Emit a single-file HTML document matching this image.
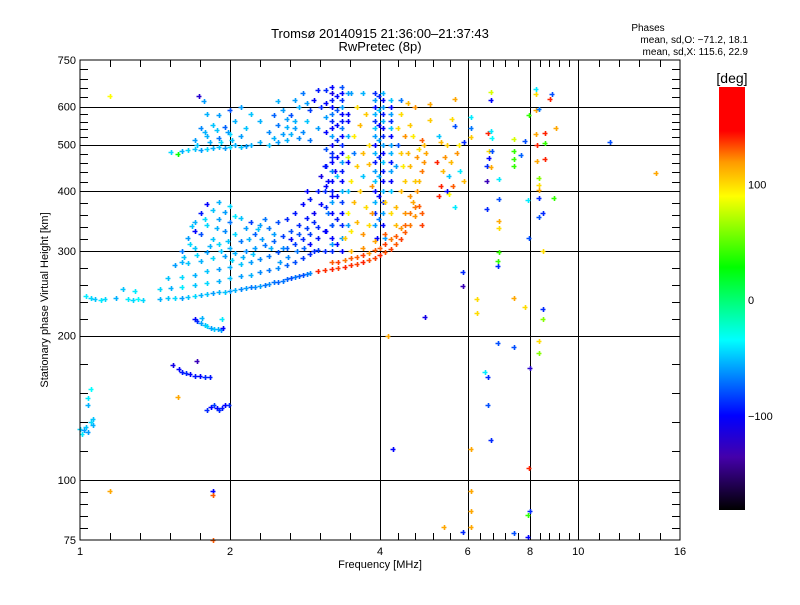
<!DOCTYPE html>
<html><head><meta charset="utf-8"><style>
body{margin:0;background:#fff;width:800px;height:600px;overflow:hidden}
svg text{font-family:"Liberation Sans",sans-serif;fill:#000}
</style></head><body>
<svg id="chart" width="800" height="600" viewBox="0 0 800 600" xmlns="http://www.w3.org/2000/svg">
<rect width="800" height="600" fill="#fff"/>
<defs><linearGradient id="cbar" x1="0" y1="0" x2="0" y2="1">
<stop offset="0" stop-color="#ff0000"/><stop offset="0.104" stop-color="#ff0000"/><stop offset="0.177" stop-color="#ff9900"/><stop offset="0.258" stop-color="#ffff00"/><stop offset="0.426" stop-color="#00ff00"/><stop offset="0.598" stop-color="#00ffff"/><stop offset="0.777" stop-color="#0000ff"/><stop offset="0.875" stop-color="#4400aa"/><stop offset="1" stop-color="#000000"/>
</linearGradient></defs>
<text x="380" y="38" font-size="13" text-anchor="middle">Tromsø 20140915 21:36:00–21:37:43</text>
<text x="380" y="51" font-size="13" text-anchor="middle">RwPretec (8p)</text>
<text x="648" y="31" font-size="10" text-anchor="middle">Phases</text>
<text x="748" y="43" font-size="10" text-anchor="end">mean, sd,O: −71.2, 18.1</text>
<text x="748" y="55" font-size="10" text-anchor="end">mean, sd,X: 115.6, 22.9</text>
<g id="grid"></g>
<g id="points"></g>
<rect x="80" y="60" width="600" height="480" fill="none" stroke="#000" stroke-width="1"/>
<g id="ticks"></g>
<text x="380" y="568" font-size="11" text-anchor="middle">Frequency [MHz]</text>
<text transform="translate(48,300) rotate(-90)" font-size="11" text-anchor="middle">Stationary phase Virtual Height [km]</text>
<rect x="719" y="87" width="26" height="423" fill="url(#cbar)"/>
<text x="732" y="83" font-size="14" text-anchor="middle">[deg]</text>
<g id="cbticks"></g>
</svg>
<script>
const xTicks=[1,2,4,6,8,10,16];
const yTicks=[75,100,200,300,400,500,600,750];
const xGrid=[2,4,6,8,10];
const yGrid=[100,200,300,400,500,600];
const cbLabels=[100,0,-100];

const groundRay=[[1.03,242,-40],[1.05,239,-45],[1.07,238,-50],[1.10,237,-40],[1.12,238,-45],[1.25,238,-40],[1.28,237,-45],[1.31,238,-35],[1.34,237,-45],[1.22,250,-50],[1.29,248,-40],[1.18,240,-55]];
const lowerO=[[1.45,238,-55],[1.5,239,-50],[1.55,239,-45],[1.6,240,-60],[1.65,241,-50],[1.7,242,-45],[1.75,243,-55],[1.8,244,-50],[1.85,245,-60],[1.9,246,-55],[1.95,247,-50],[2.0,248,-60],[2.05,249,-55],[2.1,250,-65],[2.15,251,-60],[2.2,252,-70],[2.25,253,-65],[2.3,254,-60],[2.35,255,-70],[2.4,256,-65],[2.45,258,-70],[2.5,259,-75],[2.55,260,-70],[2.6,262,-75],[2.65,263,-80],[2.7,265,-70],[2.75,266,-75],[2.8,268,-80],[2.85,269,-70],[2.9,270,-65],
[1.45,250,-45],[1.52,251,-55],[1.6,253,-40],[1.7,255,-50],[1.8,257,-45],[1.9,260,-55],[2.0,263,-50],[2.1,266,-60],[2.2,268,-55],[2.3,271,-65],[2.4,274,-70],[2.5,277,-65],[2.6,281,-75],[2.7,285,-80],[2.8,290,-85],[2.9,296,-90],[3.0,302,-85],
[1.5,263,-50],[1.6,265,-45],[1.7,268,-55],[1.8,272,-50],[1.9,275,-60],[2.0,278,-55],[2.1,282,-50],[2.2,285,-60],[2.3,289,-65],[2.4,293,-70],[2.5,298,-80],[2.6,304,-75],[2.7,311,-85],[2.8,318,-90],[2.9,326,-85],[3.0,336,-90],
[1.55,280,-60],[1.65,283,-50],[1.75,286,-55],[1.85,290,-45],[1.95,293,-60],[2.05,297,-55],[2.15,300,-65],[2.25,304,-60],[2.35,309,-70],[2.45,315,-75],[2.55,322,-85],[2.65,330,-80],[2.75,340,-90],[2.85,352,-95],
[1.6,300,-70],[1.7,305,-50],[1.8,298,-60],[1.9,310,-45],[2.0,305,-55],[2.1,315,-70],[1.65,320,-60],[1.75,325,-80],[1.85,318,-50],[1.95,330,-65],[2.05,325,-45],[2.15,335,-60],[2.25,325,-75],[1.7,345,-55],[1.8,340,-45],[1.9,350,-60],[2.0,345,-70],[2.1,352,-50],[2.2,345,-85],[2.3,340,-60],[1.75,360,-95],[1.85,365,-50],[1.95,362,-60],[2.05,355,-40],[2.4,335,-70],[2.5,345,-80],[2.6,350,-90],[1.7,330,-100],[2.45,325,-60],[2.35,350,-70],[1.6,285,-55],[2.55,305,-65],[2.65,318,-100],[2.7,360,-95],[2.8,375,-100],[2.9,385,-95],[2.95,345,-90],[1.9,380,-55],[1.8,375,-100],[2.0,372,-45],
[2.9,310,-100],[3.0,320,-95],[3.1,330,-100],[2.95,360,-105],[3.05,375,-100],[3.1,400,-90],[3.0,400,-95],[3.15,420,-100],[3.1,450,-95],[3.2,470,-90],[3.05,430,-110],[2.85,400,-100],[3.15,360,-70],[3.1,300,-90],[3.2,310,-60],[3.2,340,-80],[3.2,390,-100],[3.25,440,-105],
[1.62,292,-50],[1.72,295,-45],[1.82,307,-55],[1.92,300,-50],[2.02,287,-45],[2.12,292,-55],[2.22,296,-50],[2.32,318,-60],[2.42,304,-55],[1.68,338,-50],[1.78,350,-45],[1.88,335,-55],[1.98,315,-50],[2.18,318,-55],[2.28,333,-50],[1.66,310,-45],[2.52,285,-60],[2.62,292,-65],[2.72,300,-70],[2.82,305,-75],[2.75,325,-80],[2.85,335,-85],[2.95,300,-90]];
const upperO=[[1.6,485,-55],[1.65,488,-45],[1.7,490,-50],[1.75,487,-60],[1.8,490,-45],[1.85,492,-55],[1.9,495,-50],[1.95,492,-60],[2.0,495,-45],[2.05,498,-55],[2.1,495,-50],[2.15,497,-60],[2.2,500,-55],[1.7,510,-60],[1.8,520,-55],[1.9,515,-70],[2.0,525,-45],[2.1,520,-60],[1.75,540,-65],[1.85,550,-50],[1.95,545,-75],[2.05,560,-55],[2.15,540,-50],[1.9,575,-60],[2.0,590,-80],[1.8,580,-55],[2.1,600,-60],[2.3,505,-55],[2.4,500,-50],[2.5,505,-60],[2.6,510,-55],[2.4,530,-65],[2.5,550,-70],[2.6,545,-55],[2.7,540,-60],[2.8,530,-65],[2.45,575,-75],[2.55,590,-60],[2.65,575,-80],[2.75,600,-55],[2.85,560,-50],[2.9,590,-85],[2.95,620,-100],[3.0,650,-95],[2.7,620,-60],[2.5,615,-55],[2.8,640,-70],[3.05,600,-90],[3.0,540,-60],[2.3,560,-55],[2.2,580,-50],[1.52,482,-45],[1.57,478,30],[1.15,632,90],[1.73,630,-120],[1.77,615,-60],
[1.72,500,-50],[1.82,505,-55],[1.92,505,-45],[2.02,510,-50],[1.78,530,-55],[1.88,535,-50],[1.98,530,-60],[2.45,515,-55],[2.55,525,-60],[2.65,525,-55],[2.75,515,-65],[2.6,565,-60],[2.7,560,-55],[2.85,610,-60],[2.9,510,-70]];
const bandD=[[3.2,300,-90],[3.2,320,-100],[3.2,340,-80],[3.2,360,-100],[3.2,380,-60],[3.2,400,-95],[3.2,420,-100],[3.2,440,-70],[3.2,460,-100],[3.2,480,-90],[3.2,500,-105],[3.2,520,-60],[3.2,540,-100],[3.2,560,-90],[3.2,580,-70],[3.2,600,-100],[3.2,620,-95],[3.2,640,-110],[3.2,660,-100],
[3.35,300,-100],[3.35,320,-60],[3.35,340,-90],[3.35,360,-100],[3.35,380,-85],[3.35,400,-55],[3.35,420,-100],[3.35,440,-95],[3.35,460,-60],[3.35,480,-100],[3.35,500,-90],[3.35,520,-100],[3.35,540,-70],[3.35,560,-95],[3.35,580,-100],[3.35,600,-60],[3.35,620,-90],[3.35,640,-100],[3.35,660,-80],
[3.28,310,-100],[3.28,350,-95],[3.28,390,-100],[3.28,430,-50],[3.28,470,-100],[3.28,510,-90],[3.28,550,-100],[3.28,590,-80],[3.28,630,-100],
[3.12,330,-100],[3.12,370,-90],[3.12,410,-100],[3.12,450,-95],[3.12,490,-80],[3.12,530,-100],[3.12,570,-60],[3.12,610,-100],[3.12,650,-90],
[3.45,340,-60],[3.45,400,-50],[3.45,460,-100],[3.45,520,-55],[3.45,580,-100],[3.45,640,-60]];
const bandF=[[3.9,340,-60],[3.9,360,-90],[3.9,380,-55],[3.9,400,-100],[3.9,420,-50],[3.9,440,-60],[3.9,460,-95],[3.9,480,-55],[3.9,500,-100],[3.9,520,-60],[3.9,540,-50],[3.9,560,-90],[3.9,580,-55],[3.9,600,-100],[3.9,620,-60],[3.9,640,-90],
[4.05,340,-100],[4.05,360,-60],[4.05,380,-90],[4.05,400,-55],[4.05,420,-100],[4.05,440,-95],[4.05,460,-50],[4.05,480,-100],[4.05,500,-60],[4.05,520,-90],[4.05,540,-100],[4.05,560,-55],[4.05,580,-95],[4.05,600,-60],[4.05,620,-100],[4.05,640,-55],
[4.2,400,-50],[4.2,420,-100],[4.2,440,-60],[4.2,460,-95],[4.2,480,-55],[4.2,500,-60],[4.2,520,-100],[4.2,540,-50],[4.2,560,-90],[4.2,580,-60],[4.2,600,-100],[4.2,620,-50],
[3.98,350,-70],[3.98,390,-100],[3.98,430,-55],[3.98,470,-90],[3.98,510,-60],[3.98,550,-100],[3.98,590,-50],[3.98,630,-90],[4.1,320,-60],[3.95,320,-100]];
const xTrace=[[3.0,272,140],[3.1,274,138],[3.2,275,140],[3.3,276,135],[3.4,278,140],[3.5,280,138],[3.6,282,135],[3.7,284,140],[3.8,287,132],[3.9,290,135],[4.0,294,140],[4.1,298,132],[4.2,303,135],[4.3,310,130],[4.4,318,135],[4.5,328,130],[4.6,340,125],[4.7,355,120],[4.8,372,130],
[3.2,285,130],[3.4,288,125],[3.6,292,130],[3.8,297,120],[4.0,305,130],[4.2,318,125],[4.4,335,120],[4.6,360,125],[3.5,300,110],[3.7,305,120],[3.9,315,115],[4.1,325,130],[4.3,340,110],[4.5,360,120],[4.65,380,115],[4.75,400,120],[4.8,420,110],[4.85,440,125],[4.9,460,120],[4.95,480,115],[4.9,500,110],[4.85,510,130],[4.7,420,105],[4.6,450,110],[4.75,470,120],[4.8,490,100],[4.85,340,135],[4.85,360,130],
[4.4,400,110],[4.5,420,105],[4.45,450,95],[4.55,480,110],[4.5,520,120],[4.6,550,105],[4.4,580,100],[4.55,610,110],[4.65,520,95],[4.7,600,120],[4.35,540,100],[4.4,480,105],[4.6,390,120],[4.3,370,110],[4.2,360,100],[4.1,380,105],[4.3,450,-60],[4.35,500,-80],[4.4,620,-70],
[3.4,320,105],[3.5,330,95],[3.6,345,110],[3.7,325,120],[3.8,340,100],[3.45,360,90],[3.55,380,110],[3.65,400,105],[3.75,370,100],[3.85,360,120],[3.5,420,95],[3.6,450,105],[3.7,480,110],[3.8,500,100],[3.55,520,95],[3.65,550,110],[3.75,580,105],[3.6,600,100],[3.5,640,-60],[3.7,640,-55],[3.55,480,-70],[3.7,430,-50],[3.8,455,110],[3.85,410,120],[3.45,560,-100],[3.45,470,80],
[3.3,285,135],[3.5,290,130],[3.7,295,135],[3.9,302,130],[4.1,310,135],[4.3,322,130],[4.5,340,128],[4.7,370,125],
[5.3,410,140],[5.35,440,110],[5.4,470,120],[5.45,500,105],[5.5,430,-50],[5.55,460,110],[5.6,410,130],[5.7,480,120],[5.75,500,95],[5.8,440,-40],[5.3,505,110],[5.25,390,140],[5.9,420,110],[5.45,400,-100],[5.65,370,-40],[5.9,505,-90],[5.2,460,140],[5.25,520,-50],[5.5,395,90]];
const lowClusters=[[1.70,217,-100],[1.72,214,-90],[1.75,212,-60],[1.78,210,-50],[1.8,209,-45],[1.83,207,-60],[1.86,206,-50],[1.89,206,-55],[1.92,205,-60],[1.94,207,-100],[1.93,216,-40],[1.76,218,-55],
[1.54,174,-110],[1.58,170,-100],[1.6,168,-95],[1.63,167,-90],[1.66,166,-100],[1.7,165,-95],[1.74,165,-100],[1.78,164,-90],[1.82,164,-95],[1.72,177,-130],[1.57,149,115],
[1.8,140,-90],[1.83,142,-100],[1.86,143,-85],[1.88,141,-100],[1.9,140,-90],[1.93,141,-95],[1.95,143,-100],[1.99,143,-90],
[1.0,128,-45],[1.02,127,-60],[1.03,129,-50],[1.05,132,-45],[1.06,130,-55],[1.04,126,-60],[1.06,134,-50],[1.01,125,-40],[1.05,155,-35],[1.04,148,-40],[1.04,143,-55],
[1.15,95,115],[1.85,95,-100],[1.85,93,130],[1.85,75,130]];
const scattered=[[6.68,643,80],[6.68,619,-100],[8.22,653,-40],[8.22,637,100],[8.86,637,-80],[8.77,622,140],[5.66,622,115],[5.04,607,115],[5.04,562,105],[5.57,565,100],[5.66,547,-80],[6.09,571,-40],[6.09,541,-70],[6.09,518,105],[6.58,528,140],[6.68,533,-40],[6.7,516,-35],[7.43,514,80],[7.82,508,-80],[7.97,576,40],[8.22,590,115],[8.34,593,-70],[8.57,528,140],[8.22,525,115],[9.03,541,115],[8.57,503,40],[8.26,500,140],[11.6,505,-80],[14.3,436,115],[6.62,484,100],[6.7,484,-80],[7.43,484,40],[7.67,476,-75],[6.62,469,-100],[6.56,451,-90],[6.68,449,115],[7.43,467,40],[7.43,451,40],[8.26,462,115],[8.57,467,140],[6.93,424,-40],[6.56,420,-130],[8.34,426,60],[8.34,412,100],[8.34,402,115],[6.93,385,-80],[6.56,367,-90],[7.93,383,-40],[8.34,386,-90],[8.95,386,40],[8.5,360,-90],[8.34,353,-80],[6.93,347,115],[6.93,335,100],[7.97,319,-80],[8.5,300,100],[6.93,298,40],[6.9,286,40],[6.9,279,-90],[5.87,271,-90],[5.87,254,-130],[6.27,238,100],[6.27,223,100],[7.43,239,115],[7.82,229,100],[8.5,227,-90],[8.5,217,60],[6.9,193,-80],[7.43,189,-80],[8.34,195,100],[8.34,184,60],[8.0,171,-120],[6.49,168,-40],[6.58,164,-90],[6.58,143,-80],[6.68,121,-90],[6.09,116,115],[7.97,106,140],[6.09,95,115],[6.09,86,115],[6.09,80,115],[8.0,86,-90],[7.93,84.5,40],[5.37,80,115],[5.87,78,-90],[7.43,77.5,-80],[7.93,76,-100],[4.92,219,-110],[4.15,200,115],[4.25,116,-100]];

const NS='http://www.w3.org/2000/svg';
const X0=80,X1=680,Y0=540,Y1=60;
function xs(f){return X0+(X1-X0)*Math.log2(f)/Math.log2(16);}
function ys(h){return Y0-(Y0-Y1)*Math.log10(h/75)/Math.log10(10);}
const cstops=[[184,[255,0,0]],[146,[255,0,0]],[119,[255,153,0]],[90,[255,255,0]],[28,[0,255,0]],[-35,[0,255,255]],[-100,[0,0,255]],[-136,[68,0,170]],[-181,[0,0,0]]];
function col(p){
  if(p>=cstops[0][0])return 'rgb(255,0,0)';
  for(let i=0;i<cstops.length-1;i++){const a=cstops[i],b=cstops[i+1];
    if(p<=a[0]&&p>=b[0]){const t=(a[0]-p)/(a[0]-b[0]);const c=a[1].map((v,k)=>Math.round(v+(b[1][k]-v)*t));return 'rgb('+c.join(',')+')';}}
  return 'rgb(0,0,0)';}
function ln(g,x1,y1,x2,y2,name){const l=document.createElementNS(NS,'line');l.setAttribute('x1',x1);l.setAttribute('y1',y1);l.setAttribute('x2',x2);l.setAttribute('y2',y2);l.setAttribute('stroke','#000');l.setAttribute('stroke-width','1');


g.appendChild(l);return l;}
function tx(g,x,y,s,anchor,name){const t=document.createElementNS(NS,'text');t.setAttribute('x',x);t.setAttribute('y',y);t.setAttribute('font-size','11');t.setAttribute('text-anchor',anchor);t.textContent=s;


g.appendChild(t);}
const grid=document.getElementById('grid');
xGrid.forEach(v=>{const x=Math.round(xs(v))+0.5;ln(grid,x,60,x,540,'x-gridline');});
yGrid.forEach(v=>{const y=Math.round(ys(v))+0.5;ln(grid,80,y,680,y,'y-gridline');});
const tk=document.getElementById('ticks');
for(let i=0;i<xTicks.length;i++){
  const x=xs(xTicks[i]);
  tx(tk,x,555,String(xTicks[i]),'middle','x-tick-label');
  if(i<xTicks.length-1){const xn=xs(xTicks[i+1]);for(let k=1;k<5;k++){const xm=Math.round(x+(xn-x)*k/5)+0.5;ln(tk,xm,540,xm,533,'x-minor-tick');ln(tk,xm,60,xm,67,'x-minor-tick');}}
}
for(let i=0;i<yTicks.length;i++){
  const y=ys(yTicks[i]);
  tx(tk,76,y+4,String(yTicks[i]),'end','y-tick-label');
  if(i<yTicks.length-1){const yn=ys(yTicks[i+1]);for(let k=1;k<5;k++){const ym=Math.round(y+(yn-y)*k/5)+0.5;ln(tk,80,ym,88,ym,'y-minor-tick');ln(tk,680,ym,672,ym,'y-minor-tick');}}
}
const cb=document.getElementById('cbticks');
cbLabels.forEach(v=>{const y=87+(184-v)/(184+181)*423;tx(cb,748,y+4,v<0?'−'+Math.abs(v):String(v),'start','colorbar-tick-label');});
const pts=document.getElementById('points');
[groundRay,lowerO,upperO,bandD,bandF,xTrace,lowClusters,scattered].forEach(arr=>{
  arr.forEach(d=>{
    const x=Math.round(xs(d[0])),y=Math.round(ys(d[1]));
    const p=document.createElementNS(NS,'path');
    p.setAttribute('d','M'+(x-2.5)+' '+(y+0.5)+'h5M'+(x+0.5)+' '+(y-2)+'v5');
    p.setAttribute('stroke',col(d[2]));p.setAttribute('stroke-width','1.6');p.setAttribute('fill','none');
    
    
    pts.appendChild(p);
  });
});
</script>
</body></html>
